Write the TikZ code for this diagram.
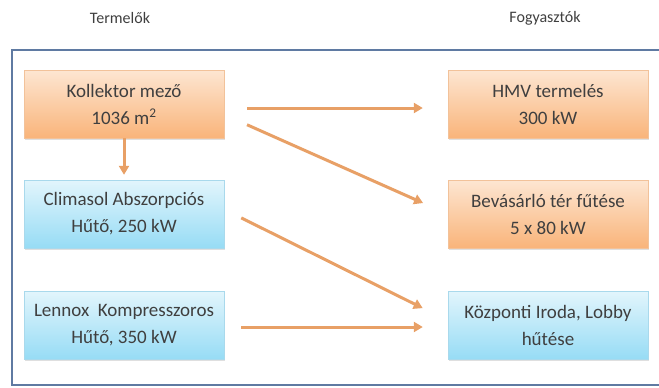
\documentclass[tikz,border=0pt]{standalone}
\usepackage{fontspec}
\setmainfont{Carlito}
\usetikzlibrary{arrows.meta,positioning,shadows}
\definecolor{txtgray}{HTML}{3F3F3F}
\definecolor{orangetop}{HTML}{FDE6D2}
\definecolor{orangebot}{HTML}{F9B47A}
\definecolor{orangeline}{HTML}{F2C29A}
\definecolor{bluetop}{HTML}{E2F5FC}
\definecolor{bluebot}{HTML}{97DCF5}
\definecolor{blueline}{HTML}{A9D9EC}
\definecolor{arrorange}{HTML}{E8A066}
\definecolor{framecol}{HTML}{5F7AA2}

\begin{document}
\begin{tikzpicture}[x=1pt,y=-1pt,
  heatbox/.style={rectangle,minimum width=200pt,minimum height=68pt,
                  top color=orangetop,bottom color=orangebot,draw=orangeline,
                  font=\fontsize{19}{27}\selectfont,text=txtgray,align=center,
                  drop shadow={opacity=0.25,shadow xshift=1pt,shadow yshift=-2pt}},
  coolbox/.style={heatbox,top color=bluetop,bottom color=bluebot,draw=blueline},
  flow/.style={-{Triangle[length=9pt,width=10pt]},line width=3pt,arrorange},
  head/.style={font=\fontsize{16}{18}\selectfont,text=txtgray}
]
  \useasboundingbox (0,0) rectangle (659,388);

  % ---- frame (right side runs off the page) ------------------
  \draw[framecol,line width=2.5pt] (665,50) -- (12,50) -- (12,385) -- (665,385);

  % ---- column headers ----------------------------------------
  \node[head] (termelok)   at (120,18) {Termelők};
  \node[head] (fogyasztok) at (545,18) {Fogyasztók};

  % ---- producers (left) --------------------------------------
  \node[heatbox] (kollektor) at (124,104) {Kollektor mező\\1036 m\textsuperscript{2}};
  \node[coolbox] (climasol)  at (124,214) {Climasol Abszorpciós\\Hűtő, 250 kW};
  \node[coolbox] (lennox)    at (124,325) {Lennox\ \ Kompresszoros\\Hűtő, 350 kW};

  % ---- consumers (right) -------------------------------------
  \node[heatbox] (hmv)       at (548,104) {HMV termelés\\300 kW};
  \node[heatbox] (bevasarlo) at (548,214) {Bevásárló tér fűtése\\5 x 80 kW};
  \node[coolbox] (kozponti)  at (548,325) {Központi Iroda, Lobby\\hűtése};

  % ---- flows -------------------------------------------------
  \draw[flow,shorten >=5pt] (kollektor.south) -- (climasol.north);
  \draw[flow,shorten <=23pt,shorten >=25pt]
    ([yshift=-4pt]kollektor.east) -- ([yshift=-4pt]hmv.west);
  \draw[flow,shorten <=25pt,shorten >=27pt]
    ([yshift=-10.6pt]kollektor.east) -- (bevasarlo.west);
  \draw[flow,shorten <=19pt,shorten >=28pt]
    ([yshift=4.6pt]climasol.east) -- ([yshift=4.4pt]kozponti.west);
  \draw[flow,shorten <=17pt,shorten >=25pt]
    ([yshift=-2pt]lennox.east) -- ([yshift=-2pt]kozponti.west);

\end{tikzpicture}
\end{document}
